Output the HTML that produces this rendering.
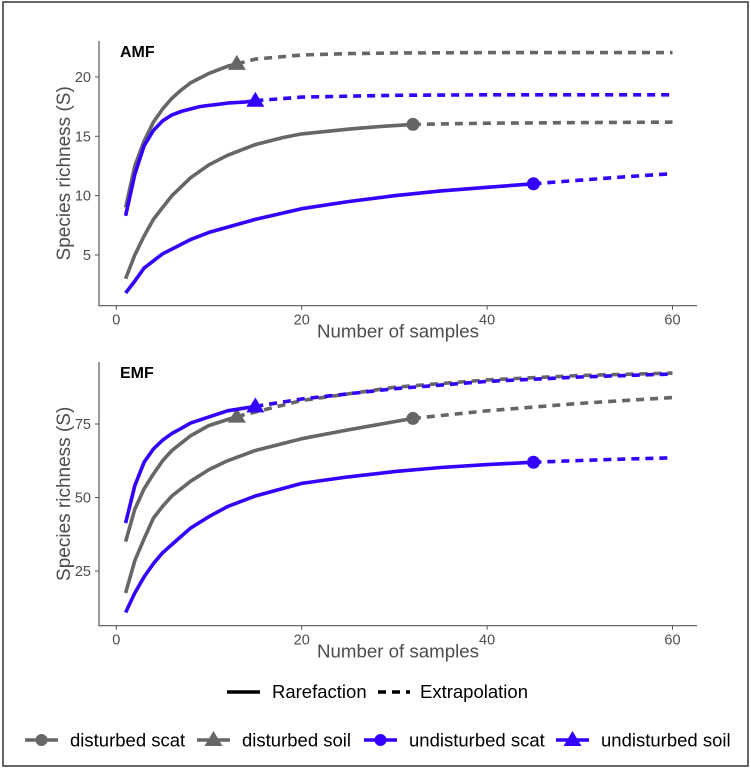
<!DOCTYPE html>
<html><head><meta charset="utf-8"><style>
body{margin:0;background:#fff;}
svg{display:block;font-family:"Liberation Sans",sans-serif;}
</style></head><body>
<svg id="chart" width="751" height="769" viewBox="0 0 751 769">
<rect x="3" y="2" width="745" height="764" fill="#fff" stroke="#333" stroke-width="1.5"/>
<g id="plots"></g>
<g>
<line x1="227" y1="692" x2="260" y2="692" stroke="#000" stroke-width="3.5"/>
<text x="272" y="698" font-size="18.5" fill="#000">Rarefaction</text>
<line x1="378" y1="692" x2="410" y2="692" stroke="#000" stroke-width="3.5" stroke-dasharray="8,6"/>
<text x="420" y="698" font-size="18.5" fill="#000">Extrapolation</text>
</g>
<g id="legend2"></g>
</svg>
<script>
const amfDistSoilX=[1,2,3,4,5,6,7,8,9,10,11,12,13];
const amfDistSoilY=[9,12.5,14.6,16.2,17.3,18.2,18.9,19.5,19.9,20.3,20.6,20.9,21.1];
const amfDistSoilEX=[13,15,20,25,30,40,50,60];
const amfDistSoilEY=[21.1,21.5,21.85,21.97,22.02,22.05,22.05,22.05];
const amfUndSoilX=[1,2,3,4,5,6,7,8,9,10,11,12,13,14,15];
const amfUndSoilY=[8.3,11.8,14.2,15.5,16.3,16.8,17.1,17.3,17.5,17.6,17.7,17.8,17.85,17.9,18.0];
const amfUndSoilEX=[15,20,30,40,60];
const amfUndSoilEY=[18,18.3,18.45,18.5,18.5];
const amfDistScatX=[1,2,3,4,5,6,8,10,12,15,18,20,25,28,32];
const amfDistScatY=[3,5,6.6,8,9,10,11.5,12.6,13.4,14.3,14.9,15.2,15.6,15.8,16];
const amfDistScatEX=[32,40,50,60];
const amfDistScatEY=[16,16.1,16.15,16.2];
const amfUndScatX=[1,2,3,5,8,10,15,20,25,30,35,40,45];
const amfUndScatY=[1.8,2.8,3.9,5.1,6.3,6.9,8.0,8.9,9.5,10,10.4,10.7,11];
const amfUndScatEX=[45,50,55,60];
const amfUndScatEY=[11,11.3,11.6,11.85];

const emfDistSoilX=[1,2,3,4,5,6,8,10,13];
const emfDistSoilY=[35,46,53,58,62.5,66,71,74.5,77.5];
const emfDistSoilEX=[13,20,30,40,50,60];
const emfDistSoilEY=[77.5,83,87.5,90,91.5,92.3];
const emfUndSoilX=[1,2,3,4,5,6,7,8,10,12,15];
const emfUndSoilY=[41.3,54,62,66.5,69.5,71.8,73.5,75.3,77.4,79.5,81];
const emfUndSoilEX=[15,20,30,40,50,60];
const emfUndSoilEY=[81,83.5,87,89.5,91,92];
const emfDistScatX=[1,2,3,4,5,6,8,10,12,15,20,25,32];
const emfDistScatY=[17.5,28.5,36,43,47,50.5,55.5,59.5,62.5,66,70,73,76.9];
const emfDistScatEX=[32,40,50,60];
const emfDistScatEY=[76.9,79.5,82,84];
const emfUndScatX=[1,2,3,4,5,6,8,10,12,15,20,25,30,35,40,45];
const emfUndScatY=[10.9,17.5,23,27.5,31.2,34,39.6,43.5,46.9,50.5,54.8,57,58.8,60.2,61.2,62];
const emfUndScatEX=[45,50,55,60];
const emfUndScatEY=[62,62.6,63.1,63.5];

const xTicks=[0,20,40,60];
const amfYTicks=[5,10,15,20];
const emfYTicks=[25,50,75];
const legendLabels=["disturbed scat","disturbed soil","undisturbed scat","undisturbed soil"];

const GREY="#666666", BLUE="#3300ff";
const NS="http://www.w3.org/2000/svg";
function mk(tag,attrs,parent){const e=document.createElementNS(NS,tag);for(const k in attrs)e.setAttribute(k,attrs[k]);parent.appendChild(e);return e;}
const xs=v=>116.3+v*9.27;

function panel(name,title,top,bottom,y0v,y0p,ppu,ticks,series){
  const g=mk('g',{},document.getElementById('plots'));
  
  
  const ys=v=>y0p-(v-y0v)*ppu;
  const ax=mk('path',{d:`M99,${top} V${bottom} H697`,fill:'none',stroke:'#555','stroke-width':1.2},g);
  
  
  xTicks.forEach(t=>{
    mk('line',{x1:xs(t),x2:xs(t),y1:bottom,y2:bottom+4,stroke:'#555'},g);
    const tx=mk('text',{x:xs(t),y:bottom+19,'font-size':14.5,fill:'#4d4d4d','text-anchor':'middle'},g);
    tx.textContent=t;
    
    
  });
  ticks.forEach(t=>{
    mk('line',{x1:95,x2:99,y1:ys(t),y2:ys(t),stroke:'#555'},g);
    const tx=mk('text',{x:91,y:ys(t)+5,'font-size':14.5,fill:'#4d4d4d','text-anchor':'end'},g);
    tx.textContent=t;
    
    
  });
  const xt=mk('text',{x:398,y:bottom+32,'font-size':18.7,fill:'#4d4d4d','text-anchor':'middle'},g);
  xt.textContent='Number of samples';
  
  
  const cy=(top+bottom)/2;
  const yt=mk('text',{x:0,y:0,'font-size':19,fill:'#4d4d4d','text-anchor':'middle',transform:`translate(70,${cy}) rotate(-90)`},g);
  yt.textContent='Species richness (S)';
  
  
  const pt=mk('text',{x:120,y:top+16,'font-size':16,'font-weight':'bold',fill:'#000'},g);
  pt.textContent=title;
  
  
  series.forEach(s=>{
    const d1=s.x.map((v,i)=>(i?'L':'M')+xs(v).toFixed(1)+','+ys(s.y[i]).toFixed(1)).join(' ');
    const d2=s.ex.map((v,i)=>(i?'L':'M')+xs(v).toFixed(1)+','+ys(s.ey[i]).toFixed(1)).join(' ');
    const l1=mk('path',{d:d1,fill:'none',stroke:s.c,'stroke-width':3.6,'stroke-linejoin':'round'},g);
    
    
    const l2=mk('path',{d:d2,fill:'none',stroke:s.c,'stroke-width':3.6,'stroke-dasharray':'8,6'},g);
    
    
    const px=xs(s.x[s.x.length-1]), py=ys(s.y[s.y.length-1]);
    let m;
    if(s.tri) m=mk('polygon',{points:`${px},${py-9} ${px-9},${py+6} ${px+9},${py+6}`,fill:s.c},g);
    else m=mk('circle',{cx:px,cy:py,r:6.5,fill:s.c},g);
    
    
  });
}
panel('amf','AMF',41,305.7,5,255,11.87,amfYTicks,[
 {n:'disturbed-scat',c:GREY,x:amfDistScatX,y:amfDistScatY,ex:amfDistScatEX,ey:amfDistScatEY},
 {n:'undisturbed-scat',c:BLUE,x:amfUndScatX,y:amfUndScatY,ex:amfUndScatEX,ey:amfUndScatEY},
 {n:'disturbed-soil',c:GREY,tri:1,x:amfDistSoilX,y:amfDistSoilY,ex:amfDistSoilEX,ey:amfDistSoilEY},
 {n:'undisturbed-soil',c:BLUE,tri:1,x:amfUndSoilX,y:amfUndSoilY,ex:amfUndSoilEX,ey:amfUndSoilEY}]);
panel('emf','EMF',362,625.7,25,571,2.94,emfYTicks,[
 {n:'disturbed-scat',c:GREY,x:emfDistScatX,y:emfDistScatY,ex:emfDistScatEX,ey:emfDistScatEY},
 {n:'undisturbed-scat',c:BLUE,x:emfUndScatX,y:emfUndScatY,ex:emfUndScatEX,ey:emfUndScatEY},
 {n:'disturbed-soil',c:GREY,tri:1,x:emfDistSoilX,y:emfDistSoilY,ex:emfDistSoilEX,ey:emfDistSoilEY},
 {n:'undisturbed-soil',c:BLUE,tri:1,x:emfUndSoilX,y:emfUndSoilY,ex:emfUndSoilEX,ey:emfUndSoilEY}]);

const lg=document.getElementById('legend2');
const lx=[25,197,364,556], cols=[GREY,GREY,BLUE,BLUE];
legendLabels.forEach((lab,i)=>{
  const x=lx[i], y=740, c=cols[i];
  mk('line',{x1:x,x2:x+33,y1:y,y2:y,stroke:c,'stroke-width':3.6},lg);
  const m=(i%2===0)?mk('circle',{cx:x+16.5,cy:y,r:6,fill:c},lg):mk('polygon',{points:`${x+16.5},${y-9} ${x+7.5},${y+6} ${x+25.5},${y+6}`,fill:c},lg);
  
  
  const t=mk('text',{x:x+45,y:y+6.5,'font-size':18.5,fill:'#000'},lg);
  t.textContent=lab;
  
  
});
</script>
</body></html>
